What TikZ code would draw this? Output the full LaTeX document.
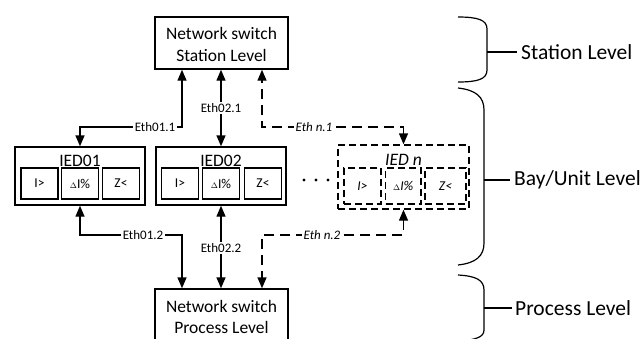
\documentclass[tikz,border=0pt]{standalone}
\usepackage{fontspec}
\setmainfont{Carlito}
\usetikzlibrary{arrows.meta}
\tikzset{
  box/.style={draw, line width=1.4pt, inner sep=0pt},
  swtext/.style={align=center, inner sep=0pt, font=\fontsize{17.5}{21.5}\selectfont},
  sub/.style={draw, line width=1.3pt, minimum width=37pt, minimum height=31pt, inner sep=0pt, font=\fontsize{13.5}{13.5}\selectfont},
  dbox/.style={box, dash pattern=on 7pt off 4pt},
  dsub/.style={sub, dash pattern=on 7pt off 4pt},
  link/.style={line width=1.4pt, {Triangle[width=9pt,length=11pt]}-{Triangle[width=9pt,length=11pt]}},
  dlink/.style={link, dash pattern=on 10pt off 6pt},
  lab/.style={fill=white, inner sep=1.5pt, font=\fontsize{13}{13}\selectfont},
  title/.style={font=\fontsize{17.5}{17.5}\selectfont, inner sep=0pt},
  brace/.style={line width=1.2pt},
  lvl/.style={anchor=west, font=\fontsize{21.5}{21.5}\selectfont, inner sep=0pt},
}
\newcommand{\dI}{{\fontsize{8.5}{8.5}\selectfont$\Delta$}I\%}
\begin{document}
\begin{tikzpicture}[x=1pt, y=-1pt]
\useasboundingbox (0,0) rectangle (644,338);
\clip (0,0) rectangle (644,338);

% network switches
\node[box, minimum width=133pt, minimum height=52pt] (sw1) at (221.5,43) {};
\node[swtext] (sw1t) at (221.5,44.5) {Network switch\\Station Level};
\node[box, minimum width=133pt, minimum height=62pt] (sw2) at (221.5,320) {};
\node[swtext] (sw2t) at (221.5,317) {Network switch\\Process Level};

% IED 01
\node[box, minimum width=130pt, minimum height=58pt] (ied1) at (80,176) {};
\node[title] (t1) at (80,161) {IED01};
\node[sub] (a1) at (39.5,183.5) {I>};
\node[sub] (b1) at (80,183.5) {\dI};
\node[sub] (c1) at (121,183.5) {Z<};

% IED 02
\node[box, minimum width=130pt, minimum height=58pt] (ied2) at (221,176) {};
\node[title] (t2) at (221,161) {IED02};
\node[sub] (a2) at (180,183.5) {I>};
\node[sub] (b2) at (221,183.5) {\dI};
\node[sub] (c2) at (263,183.5) {Z<};

% further IEDs
\fill (304,180) circle (1.6pt) (316,180) circle (1.6pt) (328,180) circle (1.6pt);

% IED n
\node[dbox, minimum width=131pt, minimum height=64pt] (iedn) at (403.5,177) {};
\node[title] (tn) at (403.5,159.5) {\itshape IED n};
\node[dsub, minimum width=37pt, minimum height=36pt] (an) at (362.5,186) {\itshape I>};
\node[dsub, minimum width=35.5pt, minimum height=36pt] (bn) at (403.3,186) {\itshape\dI};
\node[dsub, minimum width=41pt, minimum height=36pt] (cn) at (445.5,186) {\itshape Z<};

% bends of the links
\coordinate (k1) at (182,127);
\coordinate (kn) at (262,127);
\coordinate (m1) at (182,235);
\coordinate (mn) at (262,235);

% station level links
\draw[link] (ied1.north) |- (k1) -- (sw1.south -| k1);
\draw[link] (ied2.north) -- (sw1.south -| ied2.north);
\draw[dlink] (iedn.north) |- (kn) -- (sw1.south -| kn);
\node[lab] (l11) at (155,127) {Eth01.1};
\node[lab] (l21) at (221,108) {Eth02.1};
\node[lab] (ln1) at (314,127) {\itshape Eth n.1};

% process level links
\draw[link] (ied1.south) |- (m1) -- (sw2.north -| m1);
\draw[link] (ied2.south) -- (sw2.north -| ied2.south);
\draw[dlink] (iedn.south) |- (mn) -- (sw2.north -| mn);
\node[lab] (l12) at (143,235) {Eth01.2};
\node[lab] (l22) at (221,248) {Eth02.2};
\node[lab] (ln2) at (322,235) {\itshape Eth n.2};

% level braces
\draw[brace] (458,17) .. controls (478,17) and (487,20) .. (487,29) -- (487,70) .. controls (487,79) and (478,82) .. (458,82);
\draw[brace] (487,52) -- (517,52);
\node[lvl] (st) at (521,52) {Station Level};

\draw[brace] (458,88) .. controls (476,90) and (484,97) .. (484,110) -- (484,243) .. controls (484,256) and (476,263) .. (458,265);
\draw[brace] (484,180) -- (510,180);
\node[lvl] (bay) at (514,180) {Bay/Unit Level};

\draw[brace] (458,275) .. controls (476,276) and (484,280) .. (484,290) -- (484,330) .. controls (484,337) and (476,340) .. (458,341);
\draw[brace] (484,308) -- (512,308);
\node[lvl] (pr) at (515,308) {Process Level};
\end{tikzpicture}
\end{document}
